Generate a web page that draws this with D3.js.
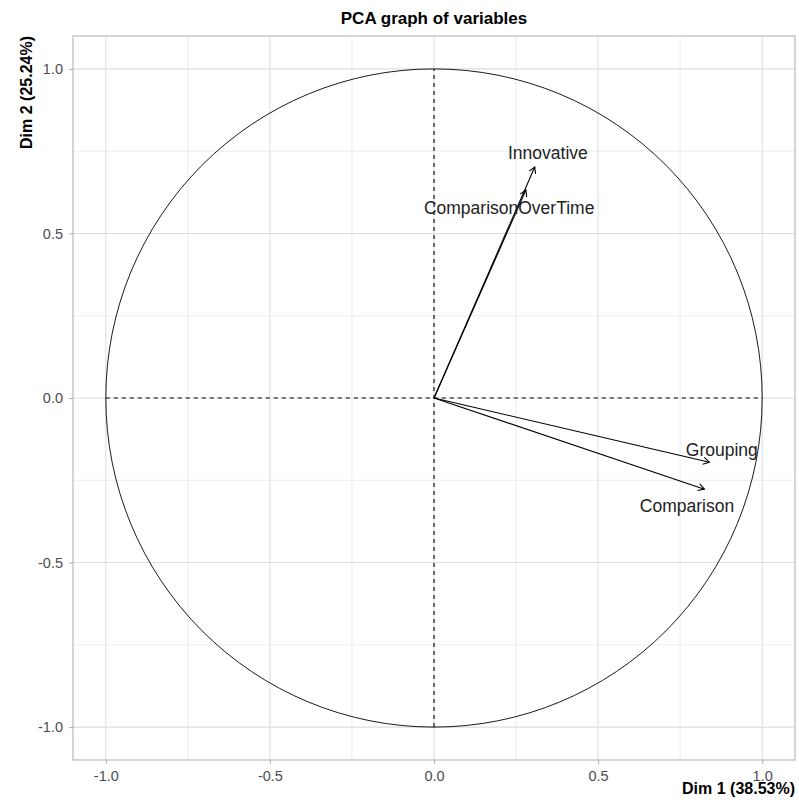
<!DOCTYPE html>
<html><head><meta charset="utf-8">
<script src="https://cdn.jsdelivr.net/npm/d3@7"></script>
<style>body{margin:0;background:#fff}svg{display:block}text{font-family:"Liberation Sans",Arial,sans-serif}</style>
</head><body><svg id="c" width="799" height="807"></svg>
<script>
const variables = ["Innovative","ComparisonOverTime","Grouping","Comparison"];
const dim1 = [0.307, 0.280, 0.839, 0.824];
const dim2 = [0.702, 0.632, -0.195, -0.277];
const labelX = [0.347, 0.229, 0.877, 0.771];
const labelY = [0.745, 0.578, -0.158, -0.328];
const majorTicks = [-1.0, -0.5, 0.0, 0.5, 1.0];
const minorTicks = [-0.75, -0.25, 0.25, 0.75];
const tickLabels = ["-1.0","-0.5","0.0","0.5","1.0"];
const titleText = "PCA graph of variables";
const xTitle = "Dim 1 (38.53%)";
const yTitle = "Dim 2 (25.24%)";

const svg = d3.select("#c");
const L=73, R=795, T=36, B=760;
const x = d3.scaleLinear().domain([-1.1,1.1]).range([L,R]);
const y = d3.scaleLinear().domain([-1.1,1.1]).range([B,T]);

// grid
const g = svg.append("g");
g.selectAll("line.mnx").data(minorTicks).join("line").attr("x1",d=>x(d)).attr("x2",d=>x(d)).attr("y1",T).attr("y2",B).attr("stroke","#e4e4e4").attr("stroke-width",0.7);
g.selectAll("line.mny").data(minorTicks).join("line").attr("y1",d=>y(d)).attr("y2",d=>y(d)).attr("x1",L).attr("x2",R).attr("stroke","#e4e4e4").attr("stroke-width",0.7);
g.selectAll("line.mjx").data(majorTicks).join("line").attr("x1",d=>x(d)).attr("x2",d=>x(d)).attr("y1",T).attr("y2",B).attr("stroke","#dedede").attr("stroke-width",1.1);
g.selectAll("line.mjy").data(majorTicks).join("line").attr("y1",d=>y(d)).attr("y2",d=>y(d)).attr("x1",L).attr("x2",R).attr("stroke","#dedede").attr("stroke-width",1.1);

// circle
svg.append("ellipse").attr("cx",x(0)).attr("cy",y(0)).attr("rx",x(1)-x(0)).attr("ry",y(0)-y(1))
  .attr("fill","none").attr("stroke","#000").attr("stroke-width",0.9);

// dashed axes lines
svg.append("line").attr("x1",x(-1)).attr("x2",x(1)).attr("y1",y(0)).attr("y2",y(0)).attr("stroke","#000").attr("stroke-dasharray","4,4").attr("stroke-width",1.1);
svg.append("line").attr("x1",x(0)).attr("x2",x(0)).attr("y1",y(-1)).attr("y2",y(1)).attr("stroke","#000").attr("stroke-dasharray","4,4").attr("stroke-width",1.1);

// arrows
const data = variables.map((v,i)=>({v, a:dim1[i], b:dim2[i], lx:labelX[i], ly:labelY[i]}));
const ah = 7, ang = Math.PI/6;
const ag = svg.append("g").attr("stroke","#000").attr("fill","none").attr("stroke-width",1.1);
data.forEach(d=>{
  const x0=x(0), y0=y(0), x1=x(d.a), y1=y(d.b);
  ag.append("line").attr("x1",x0).attr("y1",y0).attr("x2",x1).attr("y2",y1);
  const th = Math.atan2(y1-y0, x1-x0);
  const p1=[x1-ah*Math.cos(th-ang), y1-ah*Math.sin(th-ang)];
  const p2=[x1-ah*Math.cos(th+ang), y1-ah*Math.sin(th+ang)];
  ag.append("path").attr("d",`M${p1[0]},${p1[1]}L${x1},${y1}L${p2[0]},${p2[1]}`);
});
svg.append("g").selectAll("text").data(data).join("text")
  .attr("x",d=>x(d.lx)).attr("y",d=>y(d.ly)).attr("dy","0.35em").attr("text-anchor","middle")
  .attr("font-size",17.5).attr("fill","#222").text(d=>d.v);

// panel border
svg.append("rect").attr("x",L).attr("y",T).attr("width",R-L).attr("height",B-T).attr("fill","none").attr("stroke","#b3b3b3").attr("stroke-width",1.1);

// axes
const xa = svg.append("g").attr("transform",`translate(0,${B})`)
  .call(d3.axisBottom(x).tickValues(majorTicks).tickFormat((d,i)=>tickLabels[i]).tickSize(4).tickPadding(7));
const ya = svg.append("g").attr("transform",`translate(${L},0)`)
  .call(d3.axisLeft(y).tickValues(majorTicks).tickFormat((d,i)=>tickLabels[i]).tickSize(4).tickPadding(6));
[xa,ya].forEach(a=>{
  a.select(".domain").remove();
  a.selectAll(".tick line").attr("stroke","#b3b3b3").attr("stroke-width",1.1);
  a.selectAll(".tick text").attr("fill","#4d4d4d").attr("font-size",14.5).attr("font-family","Liberation Sans, Arial, sans-serif");
});

// titles
svg.append("text").attr("x",(L+R)/2).attr("y",24).attr("text-anchor","middle").attr("font-weight","bold").attr("font-size",17).text(titleText);
svg.append("text").attr("x",R).attr("y",794).attr("text-anchor","end").attr("font-weight","bold").attr("font-size",16).text(xTitle);
svg.append("text").attr("transform",`translate(32,${T}) rotate(-90)`).attr("text-anchor","end").attr("font-weight","bold").attr("font-size",16).text(yTitle);
</script></body></html>
